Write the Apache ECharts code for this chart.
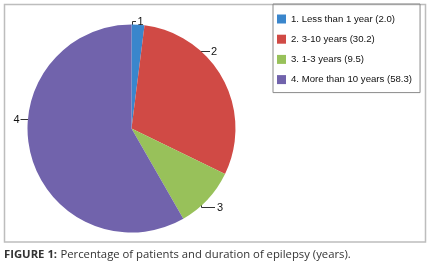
<!DOCTYPE html>
<html>
<head>
<meta charset="utf-8">
<script src="https://cdn.jsdelivr.net/npm/echarts@6/dist/echarts.min.js"></script>
<style>
  html, body { margin: 0; padding: 0; background: #fff; }
  #chart { width: 431px; height: 269px; }
</style>
</head>
<body>
<div id="chart"></div>
<script>
var sliceLabels = ["1", "2", "3", "4"];
var legendNames = [
  "1. Less than 1 year (2.0)",
  "2. 3-10 years (30.2)",
  "3. 1-3 years (9.5)",
  "4. More than 10 years (58.3)"
];
var percents = [2.0, 30.2, 9.5, 58.3];
var colors = ["#3a86cc", "#d04a45", "#98c15a", "#7163ac"];

var myChart = echarts.init(document.getElementById("chart"));

var pieData = [];
percents.forEach(function (v, i) {
  pieData.push({ name: legendNames[i], value: v, short: sliceLabels[i] });
});

// where Excel put the slice numbers and their leader lines
var labelSpots = [
  { x: 137.5, y: 21.5, align: "left", line: [[132.5, 26], [132.5, 21.5], [136, 21.5]] },
  { x: 211, y: 51.5, align: "left", line: [[199, 51.5], [205, 51.5], [210, 51.5]] },
  { x: 217, y: 207.5, align: "left", line: [[201.5, 203], [201.5, 207.5], [215, 207.5]] },
  { x: 19.5, y: 119.5, align: "right", line: [[29, 119.5], [25, 119.5], [20.5, 119.5]] }
];

var option = {
  animation: false,
  color: colors,
  graphic: [
    {
      type: "rect",
      shape: { x: 4.5, y: 4.5, width: 421, height: 237.5 },
      style: { fill: "none", stroke: "#bdbdbd", lineWidth: 1.5 },
      z: -1
    },
    {
      type: "text",
      left: 4,
      top: 249,
      style: {
        rich: {
          b: { fontWeight: "bold", fontSize: 11.3, fill: "#333", fontFamily: "Open Sans" },
          n: { fontSize: 11.3, fill: "#333", fontFamily: "Open Sans" }
        },
        text: "{b|FIGURE 1:} {n|Percentage of patients and duration of epilepsy (years).}"
      }
    }
  ],
  legend: {
    orient: "vertical",
    left: 273,
    top: 4,
    itemWidth: 9,
    itemHeight: 9,
    itemGap: 10.2,
    padding: [10, 8, 8, 4],
    borderColor: "#8a8a8a",
    borderWidth: 1,
    icon: "rect",
    textStyle: { fontSize: 9.6, color: "#111", fontFamily: "Liberation Sans" },
    data: legendNames
  },
  series: [
    {
      type: "pie",
      center: [131.5, 128.5],
      radius: 104,
      startAngle: 90,
      clockwise: true,
      data: pieData,
      label: {
        show: true,
        overflow: "none",
        formatter: function (p) { return p.data.short; },
        fontSize: 11,
        color: "#111",
        fontFamily: "Liberation Sans"
      },
      labelLine: {
        show: true,
        length: 5,
        length2: 7,
        lineStyle: { color: "#333", width: 1 }
      },
      labelLayout: function (params) {
        var s = labelSpots[params.dataIndex];
        return {
          x: s.x, y: s.y, align: s.align, verticalAlign: "middle",
          labelLinePoints: s.line
        };
      },
      itemStyle: { borderWidth: 0 },
      emphasis: { disabled: true }
    }
  ]
};

myChart.setOption(option);
</script>
</body>
</html>
